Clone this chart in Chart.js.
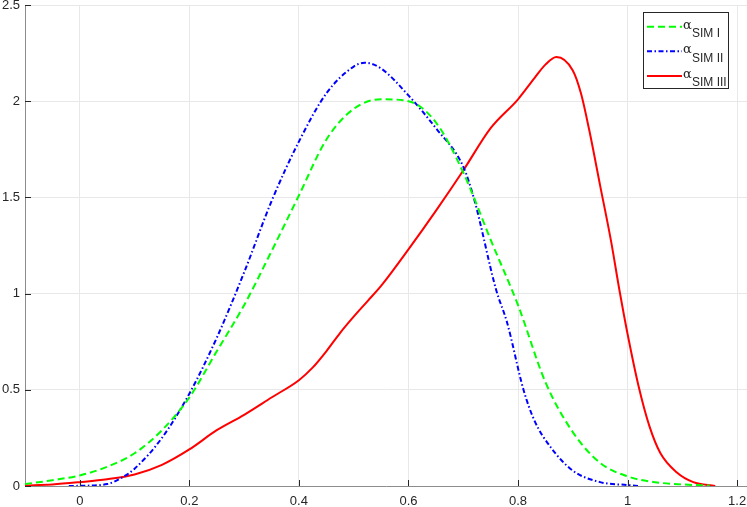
<!DOCTYPE html>
<html>
<head>
<meta charset="utf-8">
<title>alpha SIM densities</title>
<script src="https://cdn.jsdelivr.net/npm/chart.js@4.4.1/dist/chart.umd.min.js"></script>
<style>
  html, body { margin: 0; padding: 0; background: #fff; }
  #wrap { width: 747px; height: 507px; position: relative; }
</style>
</head>
<body>
<div id="wrap"><canvas id="densityChart"></canvas></div>
<script>
// Values
const xTicks = [0, 0.2, 0.4, 0.6, 0.8, 1, 1.2];
const yTicks = [0, 0.5, 1, 1.5, 2, 2.5];

const sim1X = [-0.1, -0.05, 0, 0.05, 0.1, 0.15, 0.2, 0.25, 0.3, 0.35, 0.4, 0.45, 0.5, 0.55, 0.6, 0.65, 0.7, 0.75, 0.8, 0.85, 0.9, 0.95, 1.0, 1.05, 1.1, 1.15];
const sim1Y = [0.01, 0.03, 0.055, 0.10, 0.17, 0.29, 0.46, 0.70, 0.94, 1.22, 1.51, 1.80, 1.96, 2.01, 2.0, 1.89, 1.63, 1.28, 0.94, 0.54, 0.28, 0.12, 0.05, 0.02, 0.008, 0.002];

const sim2X = [-0.02, 0, 0.05, 0.075, 0.1, 0.15, 0.2, 0.25, 0.3, 0.35, 0.4, 0.45, 0.5, 0.52, 0.55, 0.6, 0.65, 0.7, 0.72, 0.76, 0.78, 0.81, 0.83, 0.86, 0.9, 0.95, 1.0, 1.02];
const sim2Y = [0, 0.001, 0.01, 0.04, 0.09, 0.25, 0.48, 0.77, 1.11, 1.48, 1.79, 2.04, 2.18, 2.20, 2.17, 2.03, 1.86, 1.66, 1.49, 1.02, 0.85, 0.5, 0.34, 0.20, 0.08, 0.02, 0.005, 0];

const sim3X = [-0.1, -0.05, 0, 0.05, 0.1, 0.15, 0.2, 0.25, 0.3, 0.35, 0.4, 0.425, 0.45, 0.475, 0.5, 0.525, 0.55, 0.6, 0.65, 0.7, 0.75, 0.8, 0.83, 0.85, 0.87, 0.9, 0.915, 0.93, 0.95, 0.97, 0.985, 1.0, 1.02, 1.04, 1.06, 1.09, 1.12, 1.16];
const sim3Y = [0.003, 0.008, 0.02, 0.035, 0.06, 0.11, 0.19, 0.29, 0.37, 0.46, 0.55, 0.615, 0.70, 0.795, 0.88, 0.96, 1.04, 1.23, 1.43, 1.64, 1.86, 2.01, 2.12, 2.19, 2.23, 2.16, 2.04, 1.85, 1.56, 1.27, 1.02, 0.79, 0.52, 0.31, 0.17, 0.07, 0.02, 0];

const seriesNames = ['SIM I', 'SIM II', 'SIM III'];
const seriesColors = ['#00ff00', '#0000ff', '#ff0000'];
const seriesDash = [[7, 4], [5, 2.5, 1.5, 2.5], []];

function toPoints(xs, ys) {
    return xs.map((x, i) => ({ x: x, y: ys[i] }));
}

const tickFont = { family: 'Liberation Sans, Arial, sans-serif', size: 13 };
const axisGrey = '#262626';

// Inward tick marks, MATLAB style
const innerTicks = {
    id: 'innerTicks',
    afterDatasetsDraw(chart) {
        const ctx = chart.ctx;
        const area = chart.chartArea;
        const xs = chart.scales.x;
        const ys = chart.scales.y;
        ctx.save();
        ctx.strokeStyle = axisGrey;
        ctx.lineWidth = 1;
        ctx.beginPath();
        xTicks.forEach(v => {
            const px = Math.round(xs.getPixelForValue(v)) + 0.5;
            ctx.moveTo(px, area.bottom);
            ctx.lineTo(px, area.bottom - 6);
        });
        yTicks.forEach(v => {
            const py = Math.round(ys.getPixelForValue(v)) + 0.5;
            ctx.moveTo(area.left, py);
            ctx.lineTo(area.left + 6, py);
        });
        ctx.stroke();
        ctx.restore();
    }
};

// Legend box with alpha and subscript labels
const subLegend = {
    id: 'subLegend',
    afterDraw(chart) {
        const ctx = chart.ctx;
        const left = 643.5, top = 12.5, right = 728.5, bottom = 88.5;
        ctx.save();
        ctx.fillStyle = '#fff';
        ctx.fillRect(left, top, right - left, bottom - top);
        ctx.strokeStyle = '#262626';
        ctx.lineWidth = 1;
        ctx.strokeRect(left, top, right - left, bottom - top);

        chart.data.datasets.forEach((ds, i) => {
            const rowY = 26.7 + i * 24.6;
            ctx.strokeStyle = ds.borderColor;
            ctx.lineWidth = 2;
            ctx.setLineDash(seriesDash[i]);
            ctx.beginPath();
            ctx.moveTo(647, rowY);
            ctx.lineTo(682, rowY);
            ctx.stroke();
            ctx.setLineDash([]);

            ctx.fillStyle = axisGrey;
            ctx.textAlign = 'left';
            ctx.textBaseline = 'alphabetic';
            ctx.font = '13px "DejaVu Serif", serif';
            ctx.fillText('\u03b1', 683, rowY + 2);
            ctx.font = '12px "Liberation Sans", Arial, sans-serif';
            ctx.fillText(seriesNames[i], 692, rowY + 10.5);
        });
        ctx.restore();
    }
};

const chart = new Chart(document.getElementById('densityChart'), {
    type: 'line',
    data: {
        datasets: [
            { label: seriesNames[0], data: toPoints(sim1X, sim1Y) },
            { label: seriesNames[1], data: toPoints(sim2X, sim2Y) },
            { label: seriesNames[2], data: toPoints(sim3X, sim3Y) }
        ].map((ds, i) => Object.assign(ds, {
            borderColor: seriesColors[i],
            borderWidth: 2,
            borderDash: seriesDash[i],
            pointRadius: 0,
            fill: false,
            cubicInterpolationMode: 'monotone'
        }))
    },
    options: {
        responsive: true,
        maintainAspectRatio: false,
        animation: false,
        layout: { padding: { top: 5, right: 0, left: 0, bottom: 0 } },
        plugins: {
            legend: { display: false },
            tooltip: { enabled: false }
        },
        scales: {
            x: {
                type: 'linear',
                min: -0.1,
                max: 1.218,
                afterBuildTicks: scale => { scale.ticks = xTicks.map(v => ({ value: v })); },
                afterFit: scale => {
                    scale.height = 21;
                    scale.paddingLeft = 0;
                    scale.paddingRight = 0;
                },
                ticks: { font: tickFont, color: axisGrey, padding: 8, maxRotation: 0, callback: v => String(v) },
                grid: { color: '#e8e8e8', lineWidth: 1, drawTicks: false },
                border: { color: '#8c8c8c', width: 1 }
            },
            y: {
                type: 'linear',
                min: 0,
                max: 2.5,
                afterBuildTicks: scale => { scale.ticks = yTicks.map(v => ({ value: v })); },
                afterFit: scale => {
                    scale.width = 25;
                    scale.paddingTop = 0;
                    scale.paddingBottom = 0;
                },
                ticks: { font: tickFont, color: axisGrey, padding: 5, callback: v => String(v) },
                grid: { color: '#e8e8e8', lineWidth: 1, drawTicks: false },
                border: { color: '#8c8c8c', width: 1 }
            }
        }
    },
    plugins: [innerTicks, subLegend]
});
</script>
</body>
</html>
